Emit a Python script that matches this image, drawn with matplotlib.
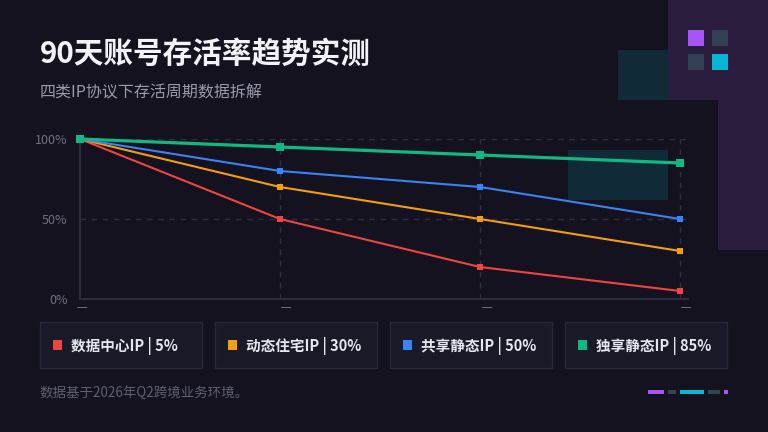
import matplotlib
matplotlib.use("Agg")
import matplotlib.pyplot as plt
from matplotlib.patches import Rectangle

plt.rcParams['font.family'] = ['Noto Sans CJK SC', 'DejaVu Sans']

# ---- data ----
days = ["1天", "30天", "60天", "90天"]
series_names = ["数据中心IP", "动态住宅IP", "共享静态IP", "独享静态IP"]
datacenter = [100, 50, 20, 5]
residential = [100, 70, 50, 30]
shared_static = [100, 80, 70, 50]
dedicated_static = [100, 95, 90, 85]
series_values = [datacenter, residential, shared_static, dedicated_static]
colors = ["#ef4444", "#f59e0b", "#3b82f6", "#10b981"]
y_ticks = [0, 50, 100]
y_labels = ["0%", "50%", "100%"]

title = "90天账号存活率趋势实测"
subtitle = "四类IP协议下存活周期数据拆解"
footer = "数据基于2026年Q2跨境业务环境。"

W, H = 768, 432
BG = "#13121e"
fig = plt.figure(figsize=(W / 100, H / 100), dpi=100, facecolor=BG)


def px_rect(x0, y0, x1, y1, color, z, ec="none", lw=0):
    r = Rectangle((x0 / W, 1 - y1 / H), (x1 - x0) / W, (y1 - y0) / H,
                  transform=fig.transFigure, facecolor=color, edgecolor=ec,
                  linewidth=lw, zorder=z)
    fig.patches.append(r)
    return r


# decorative shapes
px_rect(668, 0, 768, 100, "#2a1d3e", -5)
px_rect(718, 100, 768, 250, "#2a1d3e", -5)
px_rect(618, 50, 668, 100, "#102a37", -5)
px_rect(568, 150, 668, 200, "#102a37", -5)
px_rect(688, 30, 704, 46, "#a855f7", -4)
px_rect(712, 30, 728, 46, "#334155", -4)
px_rect(688, 54, 704, 70, "#334155", -4)
px_rect(712, 54, 728, 70, "#06b6d4", -4)

# ---- axes ----
ax_l, ax_r, ax_t, ax_b = 80, 688, 139, 299
ax = fig.add_axes([ax_l / W, 1 - ax_b / H, (ax_r - ax_l) / W, (ax_b - ax_t) / H])
ax.patch.set_alpha(0)
x = list(range(len(days)))
ax.set_xlim(0, 3 * (ax_r - ax_l) / 600)
ax.set_ylim(0, 100)

for i, (vals, c) in enumerate(zip(series_values, colors)):
    big = i == 3
    ax.plot(x, vals, color=c, lw=2.3 if big else 1.5, marker="s",
            ms=6 if big else 4.5, mec=c, mfc=c, mew=0, clip_on=False,
            zorder=3 + i)

# grid
for yv in [50, 100]:
    ax.axhline(yv, color="#2f2e40", lw=1, ls=(0, (4, 4)), zorder=1)
for xv in [1, 2, 3]:
    ax.axvline(xv, color="#2f2e40", lw=1, ls=(0, (4, 4)), zorder=1)

for s in ["top", "right"]:
    ax.spines[s].set_visible(False)
for s in ["left", "bottom"]:
    ax.spines[s].set_color("#2c2c3c")
    ax.spines[s].set_linewidth(1.5)

ax.set_yticks(y_ticks)
ax.set_yticklabels(y_labels)
ax.set_xticks(x)
ax.set_xticklabels(days)
ax.tick_params(axis="both", length=0, colors="#707084", labelsize=9)
ax.tick_params(axis="y", pad=9)
ax.tick_params(axis="x", pad=6)

# cover lower part of x labels (clipped in reference)
px_rect(0, 308, 768, 432, BG, 1)

# ---- titles ----
fig.text(40 / W, 1 - 54 / H, title, color="#f2f2f7", fontsize=21.3,
         fontweight="bold", va="center", ha="left", zorder=10)
fig.text(40 / W, 1 - 93 / H, subtitle, color="#9a9aae", fontsize=11.5,
         va="center", ha="left", zorder=10)

# ---- legend cards ----
cards = [(40, 202), (215, 377), (390, 552), (565, 727)]
for (x0, x1), name, vals, c in zip(cards, series_names, series_values, colors):
    px_rect(x0, 322, x1, 368, "#1a1928", 5, ec="#282739", lw=1)
    px_rect(x0 + 13, 340, x0 + 22, 350, c, 6)
    fig.text((x0 + 31) / W, 1 - 346 / H, f"{name} | {vals[-1]}%",
             color="#e6e6ee", fontsize=10.5, fontweight="bold",
             va="center", ha="left", zorder=10)

# ---- footer ----
fig.text(40 / W, 1 - 393 / H, footer, color="#5f5f73", fontsize=9.7,
         va="center", ha="left", zorder=10)
for x0, x1, c in [(648, 664, "#a855f7"), (668, 676, "#334155"),
                  (680, 704, "#06b6d4"), (708, 720, "#334155"),
                  (724, 728, "#a855f7")]:
    px_rect(x0, 390, x1, 394, c, 6)

fig.savefig("out.png", dpi=100, facecolor=BG)
